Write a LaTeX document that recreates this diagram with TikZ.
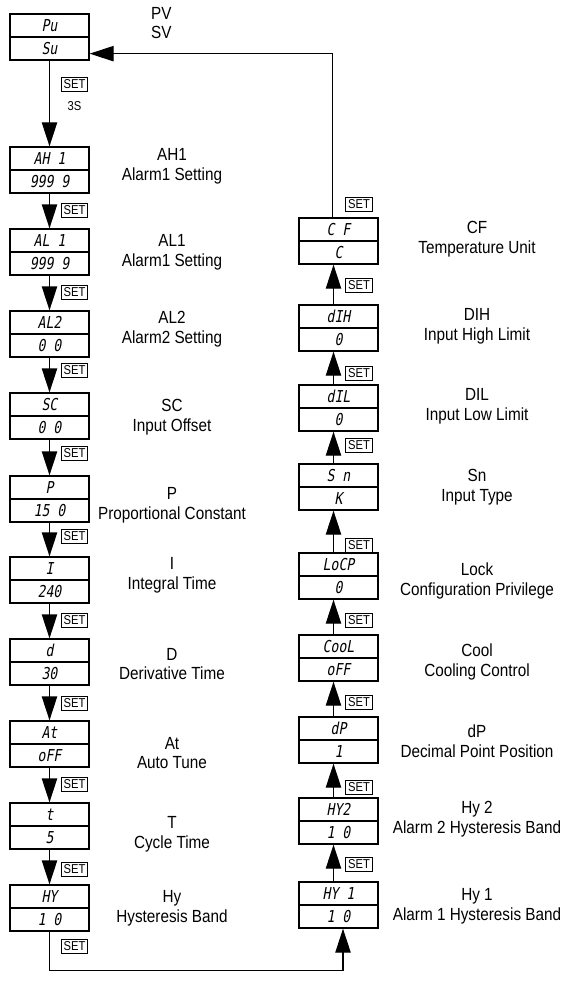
\documentclass[tikz,border=0pt]{standalone}
\usepackage{fontspec}
\setmainfont{Liberation Sans}[FakeStretch=0.87]
\newfontfamily\segfont{DejaVu Sans Mono}[FakeSlant=0.18,FakeStretch=0.8]
\usepackage{tikz}
\usetikzlibrary{arrows.meta,calc}

\begin{document}
\begin{tikzpicture}[
  x=0.03cm, y=-0.03cm,
  >={Triangle[length=0.72cm,width=0.46cm]},
  every node/.style={font=\fontsize{15}{17}\selectfont},
  segbox/.style={
    rectangle, draw, line width=1.1pt,
    minimum width=2.37cm, minimum height=0.69cm,
    inner sep=0pt,
    font=\segfont\fontsize{14}{14}\selectfont
  },
  setkey/.style={
    rectangle, draw, line width=0.8pt,
    minimum width=0.8cm, minimum height=0.42cm,
    inner sep=0.5pt, font=\fontsize{11}{11}\selectfont
  },
  labeltext/.style={align=center},
  flowarrow/.style={->, line width=1.1pt}
]
\useasboundingbox (0,0) rectangle (563,981);

% Left column - PV/SV and the control parameters
\node[segbox] (pu) at (49.5, 25.5) {Pu};
\node[segbox] (su) at (49.5, 48.5) {Su};
\node[segbox] (ah) at (49.5, 158.5) {AH 1};
\node[segbox] (ahv) at (49.5, 181.5) {999 9};
\node[segbox] (alone) at (49.5, 240.5) {AL 1};
\node[segbox] (alonev) at (49.5, 263.5) {999 9};
\node[segbox] (altwo) at (49.5, 322.5) {AL2};
\node[segbox] (altwov) at (49.5, 345.5) {0 0};
\node[segbox] (sc) at (49.5, 404.5) {SC};
\node[segbox] (scv) at (49.5, 427.5) {0 0};
\node[segbox] (pp) at (49.5, 487.5) {P};
\node[segbox] (ppv) at (49.5, 510.5) {15 0};
\node[segbox] (ii) at (49.5, 568.5) {I};
\node[segbox] (iiv) at (49.5, 591.5) {240};
\node[segbox] (dd) at (49.5, 650.5) {d};
\node[segbox] (ddv) at (49.5, 673.5) {30};
\node[segbox] (at) at (49.5, 732.5) {At};
\node[segbox] (atv) at (49.5, 755.5) {oFF};
\node[segbox] (tt) at (49.5, 814.5) {t};
\node[segbox] (ttv) at (49.5, 837.5) {5};
\node[segbox] (hy) at (49.5, 896.5) {HY};
\node[segbox] (hyv) at (49.5, 919.5) {1 0};

% Right column - configuration parameters
\node[segbox] (cf) at (338.5, 229.5) {C F};
\node[segbox] (cfv) at (338.5, 252.5) {C};
\node[segbox] (dih) at (338.5, 316.5) {dIH};
\node[segbox] (dihv) at (338.5, 339.5) {0};
\node[segbox] (dil) at (338.5, 396.5) {dIL};
\node[segbox] (dilv) at (338.5, 419.5) {0};
\node[segbox] (sn) at (338.5, 475.5) {S n};
\node[segbox] (snv) at (338.5, 498.5) {K};
\node[segbox] (lock) at (338.5, 564.5) {LoCP};
\node[segbox] (lockv) at (338.5, 587.5) {0};
\node[segbox] (cool) at (338.5, 646.5) {CooL};
\node[segbox] (coolv) at (338.5, 669.5) {oFF};
\node[segbox] (dp) at (338.5, 728.5) {dP};
\node[segbox] (dpv) at (338.5, 751.5) {1};
\node[segbox] (hytwo) at (338.5, 809.5) {HY2};
\node[segbox] (hytwov) at (338.5, 832.5) {1 0};
\node[segbox] (hyone) at (338.5, 893.5) {HY 1};
\node[segbox] (hyonev) at (338.5, 916.5) {1 0};

% Descriptions
\node[align=left, anchor=west] (lpv) at (147, 23) {PV\\SV};
\node[labeltext] (lah) at (172, 166) {AH1\\Alarm1 Setting};
\node[labeltext] (lalone) at (172, 252.5) {AL1\\Alarm1 Setting};
\node[labeltext] (laltwo) at (172, 329) {AL2\\Alarm2 Setting};
\node[labeltext] (lsc) at (172, 417.5) {SC\\Input Offset};
\node[labeltext] (lpp) at (172, 505) {P\\Proportional Constant};
\node[labeltext] (lii) at (172, 575) {I\\Integral Time};
\node[labeltext] (ldd) at (172, 664) {D\\Derivative Time};
\node[labeltext] (lat) at (172, 753) {At\\Auto Tune};
\node[labeltext] (ltt) at (172, 834.5) {T\\Cycle Time};
\node[labeltext] (lhy) at (172, 908) {Hy\\Hysteresis Band};
\node[labeltext] (lcf) at (477, 239.5) {CF\\Temperature Unit};
\node[labeltext] (ldih) at (477, 326) {DIH\\Input High Limit};
\node[labeltext] (ldil) at (477, 406.5) {DIL\\Input Low Limit};
\node[labeltext] (lsn) at (477, 487.5) {Sn\\Input Type};
\node[labeltext] (llock) at (477, 580.5) {Lock\\Configuration Privilege};
\node[labeltext] (lcool) at (477, 661.5) {Cool\\Cooling Control};
\node[labeltext] (ldp) at (477, 741) {dP\\Decimal Point Position};
\node[labeltext] (lhytwo) at (477, 819.5) {Hy 2\\Alarm 2 Hysteresis Band};
\node[labeltext] (lhyone) at (477, 906.5) {Hy 1\\Alarm 1 Hysteresis Band};

% SET keys
\node[setkey] (kpv) at (74.5, 84) {SET};
\node[font=\fontsize{11}{11}\selectfont] (kpvt) at (74.5, 106) {3S};
\node[setkey] (kah) at (74.5, 210) {SET};
\node[setkey] (kalone) at (74.5, 292) {SET};
\node[setkey] (kaltwo) at (74.5, 370) {SET};
\node[setkey] (ksc) at (74.5, 453) {SET};
\node[setkey] (kpp) at (74.5, 536) {SET};
\node[setkey] (kii) at (74.5, 620) {SET};
\node[setkey] (kdd) at (74.5, 703) {SET};
\node[setkey] (kat) at (74.5, 784) {SET};
\node[setkey] (ktt) at (74.5, 869) {SET};
\node[setkey] (khy) at (74.5, 946) {SET};
\node[setkey] (kcf) at (359, 204) {SET};
\node[setkey] (kdih) at (359, 285) {SET};
\node[setkey] (kdil) at (359, 373) {SET};
\node[setkey] (ksn) at (359, 445) {SET};
\node[setkey] (klock) at (359, 545) {SET};
\node[setkey] (kcool) at (359, 620) {SET};
\node[setkey] (kdp) at (359, 702) {SET};
\node[setkey] (khytwo) at (359, 787) {SET};
\node[setkey] (khyone) at (359, 864) {SET};

% Left column arrows
\draw[flowarrow] (su) -- (ah);
\draw[flowarrow] (ahv) -- (alone);
\draw[flowarrow] (alonev) -- (altwo);
\draw[flowarrow] (altwov) -- (sc);
\draw[flowarrow] (scv) -- (pp);
\draw[flowarrow] (ppv) -- (ii);
\draw[flowarrow] (iiv) -- (dd);
\draw[flowarrow] (ddv) -- (at);
\draw[flowarrow] (atv) -- (tt);
\draw[flowarrow] (ttv) -- (hy);

% Right column arrows (upwards)
\draw[flowarrow] ($(hyone.north)+(-5,0)$) -- ($(hytwov.south)+(-5,0)$);
\draw[flowarrow] ($(hytwo.north)+(-5,0)$) -- ($(dpv.south)+(-5,0)$);
\draw[flowarrow] ($(dp.north)+(-5,0)$) -- ($(coolv.south)+(-5,0)$);
\draw[flowarrow] ($(cool.north)+(-5,0)$) -- ($(lockv.south)+(-5,0)$);
\draw[flowarrow] ($(lock.north)+(-5,0)$) -- ($(snv.south)+(-5,0)$);
\draw[flowarrow] ($(sn.north)+(-5,0)$) -- ($(dilv.south)+(-5,0)$);
\draw[flowarrow] ($(dil.north)+(-5,0)$) -- ($(dihv.south)+(-5,0)$);
\draw[flowarrow] ($(dih.north)+(-5,0)$) -- ($(cfv.south)+(-5,0)$);

% Cross-over at the bottom and return to PV/SV
\draw[flowarrow] (hyv.south) -- ++(0,39) -| ($(hyonev.south)+(4.5,0)$);
\draw[flowarrow] ($(cf.north)+(-6,0)$) |- ($(su.south east)+(0,-7)$);

\end{tikzpicture}
\end{document}
